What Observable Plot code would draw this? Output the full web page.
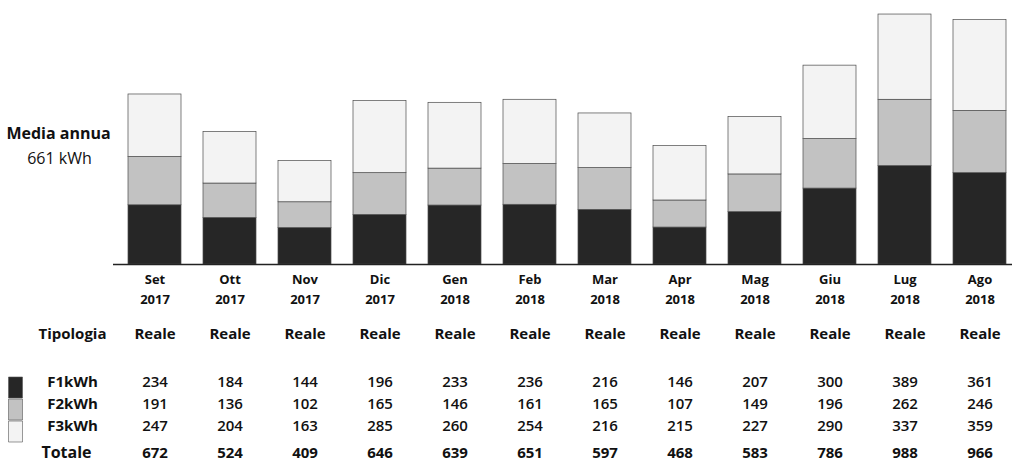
<!DOCTYPE html>
<html>
<head>
<meta charset="utf-8">
<script src="https://cdn.jsdelivr.net/npm/d3@7"></script>
<script src="https://cdn.jsdelivr.net/npm/@observablehq/plot@0.6"></script>
<style>
  html, body { margin: 0; padding: 0; background: #fff; }
  #chart svg { display: block; font-family: "Open Sans", sans-serif; }
</style>
</head>
<body>
<div id="chart"></div>
<script>
const months = ["Set","Ott","Nov","Dic","Gen","Feb","Mar","Apr","Mag","Giu","Lug","Ago"];
const years  = ["2017","2017","2017","2017","2018","2018","2018","2018","2018","2018","2018","2018"];
const tipologia = ["Reale","Reale","Reale","Reale","Reale","Reale","Reale","Reale","Reale","Reale","Reale","Reale"];
const f1 = [234, 184, 144, 196, 233, 236, 216, 146, 207, 300, 389, 361];
const f2 = [191, 136, 102, 165, 146, 161, 165, 107, 149, 196, 262, 246];
const f3 = [247, 204, 163, 285, 260, 254, 216, 215, 227, 290, 337, 359];
const totale = [672, 524, 409, 646, 639, 651, 597, 468, 583, 786, 988, 966];
const seriesNames = ["F1kWh", "F2kWh", "F3kWh"];
const seriesColors = ["#262626", "#c2c2c2", "#f3f3f3"];
const mediaAnnua = 661;

const keys = months.map((m, i) => `${m} ${years[i]}`);
const seriesValues = [f1, f2, f3];
const long = [];
seriesNames.forEach((s, si) => {
  keys.forEach((k, i) => long.push({key: k, serie: s, value: seriesValues[si][i]}));
});
const cols = keys.map((k, i) => ({key: k, month: months[i], year: years[i], tip: tipologia[i], f1: f1[i], f2: f2[i], f3: f3[i], tot: totale[i]}));

const ink = "#111";
const swatch = {draw(ctx) { ctx.rect(-7, -10.5, 14, 21); }};
const rowDy = {F1kWh: 122, F2kWh: 144, F3kWh: 166};
const left = {frameAnchor: "bottom-left", textAnchor: "middle", fill: ink};

const marks = [
  Plot.barY(long, {x: "key", y: "value", fill: "serie", stroke: "#4a4a4a", strokeWidth: 0.7}),
  Plot.ruleY([0], {stroke: "#222", strokeWidth: 1.3, insetLeft: -10, insetRight: -2}),
  Plot.text(cols, {x: "key", text: "month", frameAnchor: "bottom", dy: 19, fontSize: 13, fontWeight: 700, fill: ink}),
  Plot.text(cols, {x: "key", text: "year", frameAnchor: "bottom", dy: 39, fontSize: 13, fontWeight: 700, fill: ink}),
  Plot.text(["Media annua"], {frameAnchor: "top-left", textAnchor: "middle", dx: -65, dy: 116, fontSize: 16, fontWeight: 700, fill: ink}),
  Plot.text([`${mediaAnnua} kWh`], {frameAnchor: "top-left", textAnchor: "middle", dx: -64, dy: 141, fontSize: 16, fontWeight: 500, fill: ink}),
  Plot.text(["Tipologia"], {...left, dx: -51, dy: 74, fontSize: 15, fontWeight: 700}),
  Plot.text(cols, {x: "key", text: "tip", frameAnchor: "bottom", dy: 74, fontSize: 15, fontWeight: 700, fill: ink}),
  Plot.text(["Totale"], {...left, dx: -57, dy: 193, fontSize: 16, fontWeight: 700}),
  Plot.text(cols, {x: "key", text: "f1", frameAnchor: "bottom", dy: rowDy.F1kWh, fontSize: 15, fontWeight: 600, fill: ink}),
  Plot.text(cols, {x: "key", text: "f2", frameAnchor: "bottom", dy: rowDy.F2kWh, fontSize: 15, fontWeight: 600, fill: ink}),
  Plot.text(cols, {x: "key", text: "f3", frameAnchor: "bottom", dy: rowDy.F3kWh, fontSize: 15, fontWeight: 600, fill: ink}),
  Plot.text(cols, {x: "key", text: "tot", frameAnchor: "bottom", dy: 193, fontSize: 15, fontWeight: 700, fill: ink})
];
seriesNames.forEach((s) => {
  marks.push(Plot.text([s], {...left, dx: -51, dy: rowDy[s], fontSize: 15, fontWeight: 700}));
  marks.push(Plot.dot([s], {frameAnchor: "bottom-left", dx: -108, dy: rowDy[s] + 1, symbol: swatch, fill: d => d, stroke: "#555", strokeWidth: 0.6}));
});

const plot = Plot.plot({
  width: 1014,
  height: 468,
  marginLeft: 123,
  marginRight: 4,
  marginTop: 11,
  marginBottom: 204,
  x: {domain: keys, paddingInner: 0.3, paddingOuter: 0, axis: null},
  y: {domain: [0, 1000], axis: null},
  color: {domain: seriesNames, range: seriesColors},
  marks
});
document.getElementById("chart").appendChild(plot);
</script>
</body>
</html>
